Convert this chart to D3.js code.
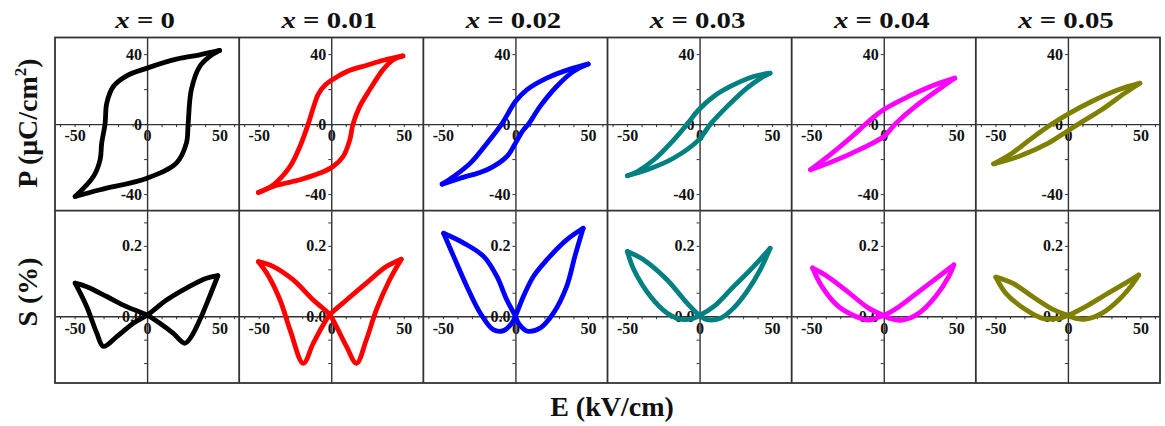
<!DOCTYPE html>
<html>
<head>
<meta charset="utf-8">
<script src="https://cdn.jsdelivr.net/npm/d3@7"></script>
<style>
  html, body { margin: 0; padding: 0; background: #fff; }
  svg { display: block; }
  text { font-family: "Liberation Serif", "Times New Roman", serif; font-weight: bold; fill: #111; }
</style>
</head>
<body>
<svg id="chart" width="1165" height="426"></svg>
<script>
// Compositions shown across the columns and their trace colours
const compositions = ["0", "0.01", "0.02", "0.03", "0.04", "0.05"];
const traceColors = ["#000000", "#ff0000", "#0000ff", "#008080", "#ff00ff", "#7f7f00"];

// Axis ranges and tick values
const eDomain = [-63.5, 63.5];
const pDomain = [-49.5, 49.5];
const sDomain = [-0.19, 0.30];
const eTicks = [-60, -50, -40, -30, -20, -10, 0, 10, 20, 30, 40, 50, 60];
const eTickLabels = [-50, 0, 50];
const pTicks = [-40, -20, 0, 20, 40];
const pTickLabels = [-40, 0, 40];
const sTicks = [-0.4 / 3, -0.2 / 3, 0, 0.2 / 3, 0.4 / 3, 0.2, 0.8 / 3];
const sTickLabels = [0, 0.2];

// P–E hysteresis loops [E (kV/cm), P (µC/cm²)]:
// upper branch from +Emax down to -Emax, then lower branch back up to +Emax
const pe_x0 = [[50, 42.1], [36.3, 39.6], [20.2, 37.1], [0, 32], [-14.1, 27.6], [-23.3, 21.5], [-27.8, 12], [-29, 0],
  [-31.3, -10.9], [-32.4, -20.4], [-37, -30], [-49.6, -41.4],
  [-32.4, -37.5], [0, -30.9], [20.2, -22.3], [27.1, -10.9], [28.3, 0], [30.5, 19.6], [36.3, 32.9], [43.1, 38.6], [50, 42.1]];
const pe_x001 = [[49.4, 39], [36, 36.5], [24, 33.5], [12, 30.5], [3, 26.5], [-4, 22.5], [-9, 17], [-12.5, 9], [-15.9, 0],
  [-21.6, -12.8], [-28.4, -24.2], [-39.9, -34.7], [-50.2, -39.1],
  [-37.6, -35], [-21.6, -31.8], [-7.8, -28], [1.3, -24.2], [8.2, -18.5], [12.8, -9], [15, 0], [19.6, 10], [26.5, 19.6],
  [35.6, 31], [42.5, 36.7], [49.4, 39]];
const pe_x002 = [[50.2, 34.3], [39.8, 32], [21.6, 26.3], [7.8, 19.6], [0, 12.9], [-9.5, 0], [-19.6, -10.9], [-31.1, -22.3],
  [-42.5, -29.9], [-50.5, -34.3],
  [-38, -30.9], [-19.6, -26.1], [-5.9, -18.5], [0, -10.9], [5.5, -3.3], [9, 0], [16.9, 10], [28.4, 21.5], [39.8, 30], [50.2, 34.3]];
const pe_x003 = [[48.6, 29.1], [37.2, 27.2], [21.2, 21.5], [9.7, 15.8], [-0.6, 8.2], [-8.6, 0], [-17.8, -9], [-31.5, -20.4],
  [-42.9, -27.1], [-49.8, -29.5],
  [-36.1, -26.1], [-17.8, -19.4], [-0.6, -9], [7.5, 0], [18.9, 10], [32.6, 20.6], [44, 27.2], [48.6, 29.1]];
const pe_x004 = [[49, 26.3], [35.3, 22.5], [17, 15.8], [-0.2, 8.2], [-10.5, 1.5], [-21.9, -7.1], [-35.6, -16.6], [-50.5, -26.1],
  [-38, -22.3], [-21.9, -16.6], [0, -7.1], [7.8, 0], [21.6, 10], [37.6, 19.6], [49, 26.3]];
const pe_x005 = [[49.6, 23.4], [34.7, 19.6], [16.4, 12.9], [-0.8, 5.3], [-11.1, 0], [-24.8, -8], [-38.5, -16.6], [-51.2, -22.7],
  [-34, -18.5], [-13.5, -10.9], [-0.8, -4.2], [7.2, 0], [23.2, 8.2], [39.2, 17.7], [49.6, 23.4]];

// S–E butterfly loops [E (kV/cm), S (%)]:
// from +Emax through the right-hand dip to -Emax, then through the left-hand dip back to +Emax
const se_x0 = [[48.8, 0.115], [43.1, 0.056], [36.3, -0.011], [30.5, -0.058], [26, -0.077], [17.9, -0.048], [8.8, -0.02],
  [0, 0.003], [-14.1, 0.027], [-27.8, 0.056], [-41.6, 0.084], [-49.6, 0.094],
  [-41.6, 0.027], [-34.7, -0.048], [-30.1, -0.086], [-20.9, -0.058], [-9.5, -0.02], [0, 0.003], [13.4, 0.046], [27.1, 0.08],
  [40.9, 0.108], [48.8, 0.115]];
const se_x001 = [[48.3, 0.162], [40.2, 0.103], [31.1, 0.018], [24.2, -0.067], [17.4, -0.134], [10.5, -0.086], [3.6, -0.03],
  [-1, 0.004], [-12.4, 0.046], [-26.2, 0.103], [-39.9, 0.141], [-50.2, 0.155],
  [-44.4, 0.122], [-35.3, 0.046], [-28.4, -0.039], [-19.3, -0.134], [-12.4, -0.077], [-5.6, -0.025], [-1, 0.004], [10.5, 0.046],
  [24.2, 0.094], [38, 0.141], [48.3, 0.162]];
const se_x002 = [[46.7, 0.25], [41, 0.17], [35.3, 0.084], [26.2, 0.0085], [17, -0.034], [7.8, -0.042], [2.1, -0.02], [0, 0],
  [-5.9, 0.046], [-12.8, 0.113], [-21.9, 0.17], [-35.6, 0.208], [-49.5, 0.236],
  [-42.6, 0.17], [-33.4, 0.084], [-24.2, 0.0085], [-15, -0.039], [-8.2, -0.041], [-2.5, -0.02], [0, 0], [5.5, 0.056],
  [12.4, 0.113], [21.6, 0.16], [35.3, 0.217], [46.7, 0.25]];
const se_x003 = [[48.6, 0.193], [41.8, 0.132], [32.6, 0.07], [23.4, 0.023], [14.3, -0.006], [5.1, -0.01], [0, 0.002],
  [-8.6, 0.037], [-22.3, 0.103], [-38.4, 0.16], [-49.8, 0.184],
  [-45.3, 0.132], [-33.8, 0.056], [-22.3, 0.0085], [-13.2, -0.0085], [-5.2, -0.007], [0, 0.002], [9.7, 0.027], [23.4, 0.084],
  [37.2, 0.141], [48.6, 0.193]];
const se_x004 = [[48.3, 0.146], [44.9, 0.113], [35.7, 0.056], [24.2, 0.0085], [12.8, -0.011], [3.6, -0.006], [0, 0.002],
  [-10.5, 0.023], [-26.5, 0.075], [-40.3, 0.117], [-49, 0.137],
  [-42.6, 0.084], [-31.1, 0.027], [-19.6, 0], [-10.5, -0.011], [-3.7, -0.003], [0, 0.002], [10.5, 0.027], [24.2, 0.07],
  [38, 0.113], [48.3, 0.146]];
const se_x005 = [[48.8, 0.117], [44.2, 0.089], [35, 0.046], [23.6, 0.0085], [12.2, -0.0085], [3, -0.003], [0, 0.002],
  [-10.7, 0.02], [-24.5, 0.056], [-38.2, 0.094], [-49.7, 0.111],
  [-42.8, 0.065], [-29, 0.018], [-17.6, -0.006], [-6.1, -0.006], [0, 0.002], [12.2, 0.027], [25.9, 0.061], [39.6, 0.094],
  [48.8, 0.117]];

const peLoops = [pe_x0, pe_x001, pe_x002, pe_x003, pe_x004, pe_x005];
const seLoops = [se_x0, se_x001, se_x002, se_x003, se_x004, se_x005];

// ---- layout ----
const svg = d3.select("#chart");
const frameLeft = 55, frameRight = 1160;
const rowTop = 37.5, rowMid = 210.7, rowBottom = 383;
const panelW = (frameRight - frameLeft) / compositions.length;
const frameColor = "#333";

const pScale = d3.scaleLinear().domain(pDomain).range([rowMid, rowTop]);
const sScale = d3.scaleLinear().domain(sDomain).range([rowBottom, rowMid]);

// Split a loop at its most negative field so each branch keeps a sharp tip
function branches(pts) {
  const k = d3.minIndex(pts, d => d[0]);
  return [pts.slice(0, k + 1), pts.slice(k)];
}

compositions.forEach((c, i) => {
  const x0 = frameLeft + i * panelW;
  const eScale = d3.scaleLinear().domain(eDomain).range([x0, x0 + panelW]);
  const rows = [
    { y: pScale, loop: peLoops[i], ticks: pTicks, labels: pTickLabels, f: d => String(d) },
    { y: sScale, loop: seLoops[i], ticks: sTicks, labels: sTickLabels, f: d => d3.format(".1f")(d) }
  ];

  rows.forEach(r => {
    const g = svg.append("g");
    // horizontal zero axis with field ticks
    const ax = g.append("g")
      .attr("transform", `translate(0,${r.y(0)})`)
      .call(d3.axisBottom(eScale).tickValues(eTicks).tickSize(3).tickSizeOuter(0).tickPadding(3)
        .tickFormat(d => eTickLabels.includes(d) ? String(d) : ""));
    // vertical zero axis
    const ay = g.append("g")
      .attr("transform", `translate(${eScale(0)},0)`)
      .call(d3.axisLeft(r.y).tickValues(r.ticks).tickSize(3).tickSizeOuter(0).tickPadding(2)
        .tickFormat(d => r.labels.some(v => Math.abs(v - d) < 1e-9) ? r.f(d) : ""));
    [ax, ay].forEach(a => {
      a.select(".domain").attr("stroke", frameColor).attr("stroke-width", 1.4);
      a.selectAll(".tick line").attr("stroke", frameColor).attr("stroke-width", 1);
      a.selectAll("text").attr("font-family", "Liberation Serif, serif").attr("font-weight", "bold")
        .attr("font-size", 16).attr("fill", "#111");
    });

    // loop trace
    const line = d3.line()
      .x(d => eScale(d[0]))
      .y(d => r.y(d[1]))
      .curve(d3.curveCatmullRom.alpha(0.5));
    branches(r.loop).forEach(b => {
      g.append("path")
        .attr("d", line(b))
        .attr("fill", "none")
        .attr("stroke", traceColors[i])
        .attr("stroke-width", 4.8)
        .attr("stroke-linejoin", "round")
        .attr("stroke-linecap", "round");
    });
  });

  // column title
  const t = svg.append("text")
    .attr("transform", `translate(${x0 + panelW / 2 - 2},28) scale(1.2,1)`)
    .attr("text-anchor", "middle")
    .attr("font-size", 24);
  t.append("tspan").attr("font-style", "italic").text("x");
  t.append("tspan").text(" = " + c);
});

// panel frame
const frame = svg.append("g").attr("fill", "none").attr("stroke", frameColor).attr("stroke-width", 1.8);
frame.append("rect").attr("x", frameLeft).attr("y", rowTop)
  .attr("width", frameRight - frameLeft).attr("height", rowBottom - rowTop);
frame.append("line").attr("x1", frameLeft).attr("x2", frameRight).attr("y1", rowMid).attr("y2", rowMid);
d3.range(1, compositions.length).forEach(i => {
  const x = frameLeft + i * panelW;
  frame.append("line").attr("x1", x).attr("x2", x).attr("y1", rowTop).attr("y2", rowBottom);
});

// axis titles
const pLabel = svg.append("text")
  .attr("transform", `translate(37,123) rotate(-90)`)
  .attr("text-anchor", "middle").attr("font-size", 28);
pLabel.append("tspan").text("P (μC/cm");
pLabel.append("tspan").attr("font-size", 17).attr("dy", -11).text("2");
pLabel.append("tspan").attr("dy", 11).text(")");

svg.append("text")
  .attr("transform", `translate(37,292) rotate(-90)`)
  .attr("text-anchor", "middle").attr("font-size", 28)
  .text("S (%)");

svg.append("text")
  .attr("x", 612).attr("y", 416)
  .attr("text-anchor", "middle").attr("font-size", 28)
  .text("E (kV/cm)");
</script>
</body>
</html>
